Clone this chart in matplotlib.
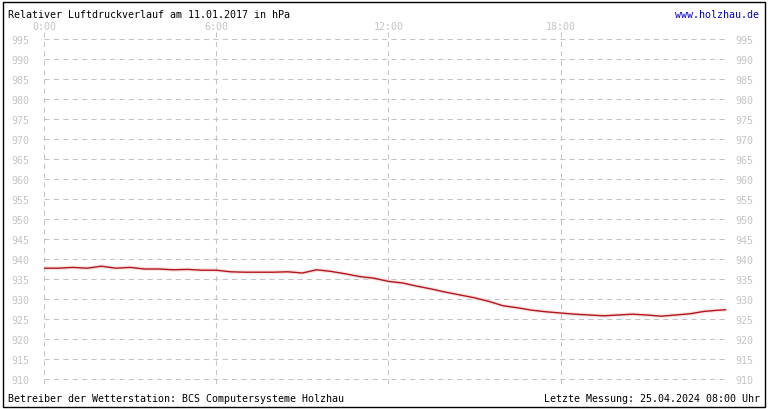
import matplotlib
matplotlib.use("Agg")
import matplotlib.pyplot as plt
from matplotlib.patches import Rectangle
import matplotlib.transforms as mtransforms

# Data
hours = [0, 0.5, 1, 1.5, 2, 2.5, 3, 3.5, 4, 4.5, 5, 5.5, 6,
         6.5, 7, 7.5, 8, 8.5, 9, 9.5, 10, 10.5, 11, 11.5, 12,
         12.5, 13, 13.5, 14, 14.5, 15, 15.5, 16, 16.5, 17, 17.5, 18,
         18.5, 19, 19.5, 20, 20.5, 21, 21.5, 22, 22.5, 23, 23.5, 23.75]
pressure = [937.7, 937.7, 937.9, 937.7, 938.2, 937.7, 937.9, 937.5, 937.5, 937.3, 937.4, 937.2, 937.2,
            936.8, 936.7, 936.7, 936.7, 936.8, 936.5, 937.3, 936.9, 936.3, 935.6, 935.2, 934.4,
            934.0, 933.2, 932.5, 931.7, 931.0, 930.3, 929.4, 928.3, 927.8, 927.2, 926.8, 926.5,
            926.2, 926.0, 925.8, 926.0, 926.2, 926.0, 925.7, 926.0, 926.3, 926.9, 927.2, 927.3]
x_ticks = [0, 6, 12, 18]
x_labels = ["0:00", "6:00", "12:00", "18:00"]
y_ticks = list(range(910, 1000, 5))

title = "Relativer Luftdruckverlauf am 11.01.2017 in hPa"
site = "www.holzhau.de"
footer_left = "Betreiber der Wetterstation: BCS Computersysteme Holzhau"
footer_right = "Letzte Messung: 25.04.2024 08:00 Uhr"

W, H = 770, 410
plt.rcParams['font.family'] = ['DejaVu Sans Mono']
fs = 7.2
grey = '#c4c4c4'

fig = plt.figure(figsize=(W / 100, H / 100), dpi=100)
fig.patch.set_facecolor('white')

# axes pixel geometry
x0, x1 = 44, 727
ytop, ybot = 30, 385
ax = fig.add_axes([x0 / W, 1 - ybot / H, (x1 - x0) / W, (ybot - ytop) / H])
px_per_h = 28.7
ax.set_xlim(0, (x1 - x0) / px_per_h)
# 4 px per hPa, 995 at y=40
ax.set_ylim(995 - (ybot - 40) / 4, 995 + (40 - ytop) / 4)

for s in ax.spines.values():
    s.set_visible(False)

ax.set_xticks(x_ticks)
ax.set_xticklabels(x_labels)
ax.set_yticks(y_ticks)
ax.tick_params(axis='x', top=False, bottom=False, labeltop=True, labelbottom=False,
               length=0, pad=-1.5, labelsize=fs, labelcolor=grey)
ax.tick_params(axis='y', left=False, right=False, labelleft=True, labelright=True,
               length=0, labelsize=fs, labelcolor=grey, pad=10.5)

ax.grid(True, color='#c4c4c4', linestyle=(0, (5, 4)), linewidth=0.75)
ax.set_axisbelow(True)

# faint halo + line
ax.plot(hours, pressure, color='#f7d0d0', lw=2.8, alpha=0.6, solid_capstyle='butt', zorder=3)
ax.plot(hours, pressure, color='#b0161c', lw=1.0, zorder=4)

# right labels a bit closer to the plot
for t in ax.yaxis.get_major_ticks():
    t.label2.set_transform(t.label2.get_transform() +
                           mtransforms.ScaledTranslation(-6 / 100, 0, fig.dpi_scale_trans))

# texts
fig.text(8 / W, 1 - 15 / H, title, ha='left', va='center', fontsize=fs, color='black')
fig.text(759 / W, 1 - 15 / H, site, ha='right', va='center', fontsize=fs, color='#0000c8')
fig.text(8 / W, 1 - 399 / H, footer_left, ha='left', va='center', fontsize=fs, color='black')
fig.text(760 / W, 1 - 399 / H, footer_right, ha='right', va='center', fontsize=fs, color='black')

# outer border
fig.patches.append(Rectangle((2.5 / W, 2.5 / H), (765 - 2.5) / W, 405 / H,
                             transform=fig.transFigure, fill=False, edgecolor='black', lw=1.0))

fig.savefig("out.png", dpi=100, facecolor='white')
